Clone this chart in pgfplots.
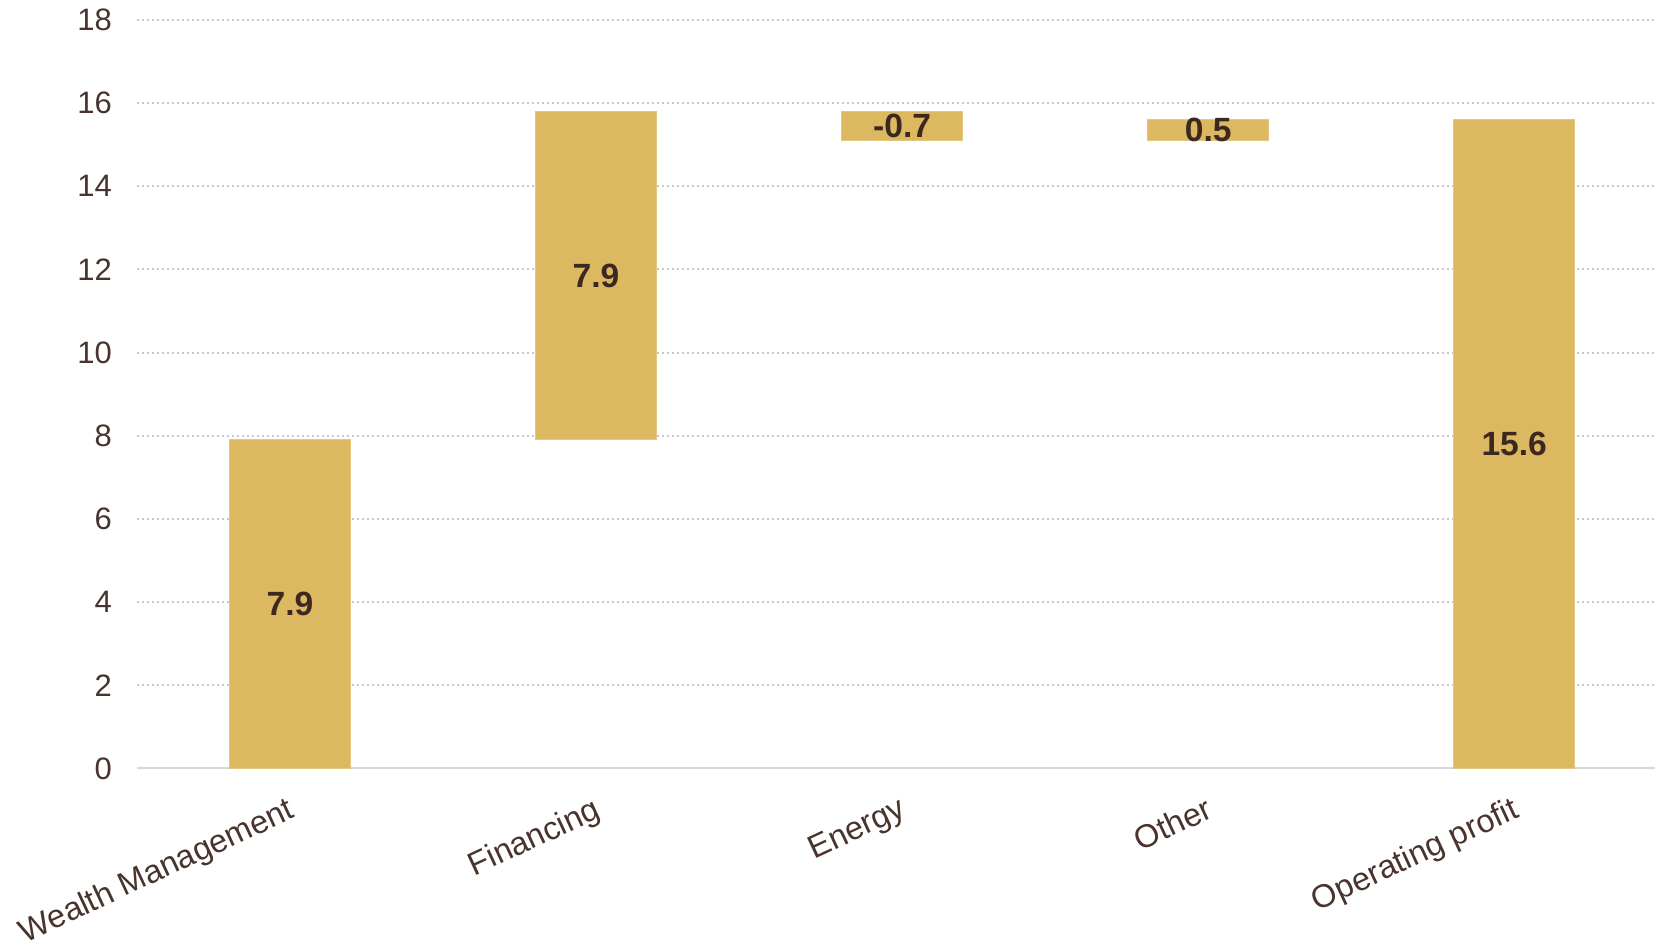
\documentclass[border=0pt]{standalone}
\usepackage{fontspec}
\setmainfont{Liberation Sans}
\usepackage{pgfplots}
\pgfplotsset{compat=1.18}
\definecolor{barc}{RGB}{220,184,96}
\definecolor{txt}{RGB}{72,52,44}
\definecolor{lbl}{RGB}{60,40,32}
\definecolor{gridc}{RGB}{200,200,200}
\definecolor{axc}{RGB}{215,215,215}
\pgfplotsset{mybase/.style={
  width=759pt, height=374.2pt, scale only axis,
  xmin=-0.5, xmax=4.46, ymin=0, ymax=18,
  at={(0,0)}, anchor=south west}}
\begin{document}
\begin{tikzpicture}
\useasboundingbox (-68.5pt,-87.8pt) rectangle (759pt,384.2pt);
\begin{axis}[mybase,
  ybar stacked, bar width=0.395,
  separate axis lines,
  axis x line*=bottom, axis y line*=left,
  x axis line style={draw=axc, line width=1pt, -},
  y axis line style={draw=none},
  ytick={0,2,...,18},
  ymajorgrids,
  grid style={draw=gridc, line width=1pt, dash pattern=on 1pt off 1.5pt},
  xtick={0,1,2,3,4},
  xticklabels={Wealth Management, Financing, Energy, Other, Operating profit},
  major tick length=0pt,
  tick label style={font=\fontsize{15.5}{18}\selectfont, text=txt},
  /pgf/number format/assume math mode=true,
  yticklabel style={xshift=-9pt},
  xticklabel style={font=\fontsize{16.2}{19}\selectfont, rotate=25, anchor=north east, yshift=-8pt, xshift=-4pt},
]
\addplot[draw=none, fill=none] coordinates {(0,0) (1,7.9) (2,15.1) (3,15.1) (4,0)};
\addplot[fill=barc, draw=barc!80!white, line width=0.5pt] coordinates {(0,7.9) (1,7.9) (2,0.7) (3,0.5) (4,15.6)};
\end{axis}
\begin{axis}[mybase, hide axis, clip=false]
\addplot[only marks, mark=none, nodes near coords, point meta=explicit symbolic,
  every node near coord/.style={anchor=center, font=\bfseries\fontsize{16.8}{20}\selectfont, text=lbl}]
  coordinates {(0,3.95)[7.9] (1,11.85)[7.9] (2,15.45)[-0.7] (3,15.35)[0.5] (4,7.8)[15.6]};
\end{axis}
\end{tikzpicture}
\end{document}
